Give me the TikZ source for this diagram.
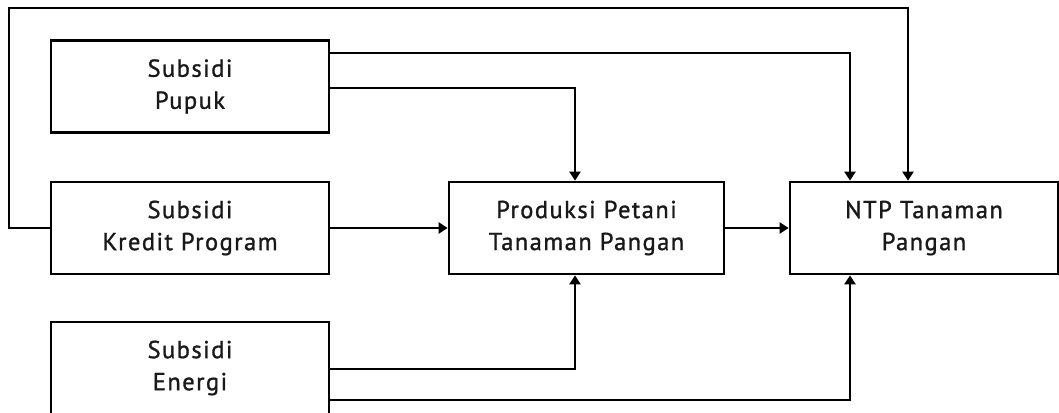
\documentclass[tikz,border=0pt]{standalone}
\usepackage{fontspec}
\setmainfont{PT Sans}[LetterSpace=6,FakeBold=1.2]
\usetikzlibrary{positioning,arrows.meta}

\begin{document}
\begin{tikzpicture}[x=1pt,y=1pt,line width=2.4pt,>={Triangle[length=9pt,width=11pt]},
	node distance=141.5pt and 396.5pt,on grid,
	box/.style={draw,line width=2.7pt,minimum width=278pt,minimum height=92pt,align=center,
		text=black!90,font=\fontsize{24.5}{32}\selectfont}]
			\useasboundingbox (0,0) rectangle (1059,-412);
			\node[box] (kredit) at (190,-228) {Subsidi\\Kredit Program};
			\node[box] (pupuk) [above=of kredit] {Subsidi\\Pupuk};
			\node[box] (energi) [below=140pt of kredit] {Subsidi\\Energi};
			\node[box, minimum width=275pt] (produksi) [right=of kredit] {Produksi Petani\\Tanaman Pangan};
			\node[box, minimum width=268pt] (ntp) [right=337.5pt of produksi] {NTP Tanaman\\Pangan};
			\coordinate (sudut) at (9,-8);
			% pupuk
			\draw[->] ([yshift=33.5pt]pupuk.east) -| ([xshift=-74pt]ntp.north);
			\draw[->] ([yshift=-1.5pt]pupuk.east) -| ([xshift=-11.5pt]produksi.north);
			% kredit
			\draw[->] (kredit.west) -| (sudut) -| ([xshift=-16pt]ntp.north);
			\draw[->] (kredit) -- (produksi);
			\draw[->] (produksi) -- (ntp);
			% energi
			\draw[->] ([yshift=-1pt]energi.east) -| ([xshift=-11.5pt]produksi.south);
			\draw[->] ([yshift=-32pt]energi.east) -| ([xshift=-74pt]ntp.south);
		\end{tikzpicture}
\end{document}
